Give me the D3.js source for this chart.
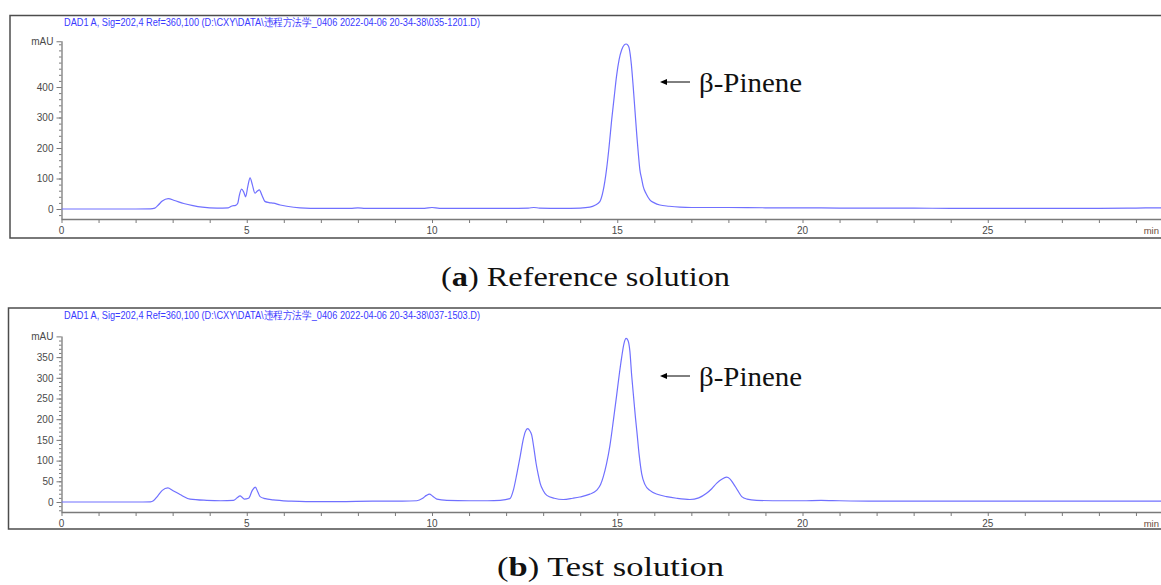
<!DOCTYPE html>
<html><head><meta charset="utf-8">
<script src="https://cdn.jsdelivr.net/npm/d3@7/dist/d3.min.js"></script>
<style>body{margin:0;background:#fff}svg{display:block}</style>
</head><body>
<svg id="c" width="1161" height="585"></svg>
<script>
// ---- data ----
const headerA = "DAD1 A, Sig=202,4 Ref=360,100 (D:\\CXY\\DATA\\违程方法学_0406 2022-04-06 20-34-38\\035-1201.D)";
const headerB = "DAD1 A, Sig=202,4 Ref=360,100 (D:\\CXY\\DATA\\违程方法学_0406 2022-04-06 20-34-38\\037-1503.D)";
const captionA = ["a", ") Reference solution"];
const captionB = ["b", ") Test solution"];
const peakLabel = "β-Pinene";
const xTickLabels = [0, 5, 10, 15, 20, 25];
const yTicksA = [0, 100, 200, 300, 400];
const yTicksB = [0, 50, 100, 150, 200, 250, 300, 350];
const unitLabel = "mAU";
const timeLabel = "min";
// [time (min), signal (mAU)]
const traceA = [[0,0],[1,0],[2,0],[2.4,0.5],[2.52,3],[2.62,14],[2.72,26],[2.88,34],[3.05,28],[3.3,18],[3.55,11],[3.8,6],[4.2,3],[4.5,4],[4.6,10],[4.7,12],[4.76,20],[4.8,45],[4.86,65],[4.92,55],[4.97,40],[5.03,75],[5.09,102],[5.15,80],[5.22,52],[5.28,58],[5.34,63],[5.41,45],[5.49,25],[5.6,21],[5.72,19],[5.9,13],[6.08,9],[6.44,4],[7,2],[7.8,2],[8,4],[8.2,2],[9,2],[9.8,2],[10,5],[10.2,2],[11,2],[12,2],[12.6,3],[12.75,5],[12.9,3],[13.5,2],[14,3],[14.26,6],[14.4,12],[14.53,24],[14.62,60],[14.71,129],[14.78,205],[14.85,293],[14.92,370],[14.98,435],[15.05,490],[15.12,522],[15.19,538],[15.24,541],[15.28,538],[15.32,528],[15.38,475],[15.43,402],[15.48,320],[15.53,238],[15.57,180],[15.61,129],[15.66,98],[15.7,74],[15.78,50],[15.88,30],[16,20],[16.15,13],[16.4,9],[16.69,6],[17,5],[18,5],[19,4],[20,4],[21,3],[22,3],[23,3],[24,2],[25,2],[26,2],[27,2],[28,2],[29,3],[29.7,4],[30,3]];
const traceB = [[0,0],[1,0],[2,0],[2.4,0.5],[2.48,3],[2.6,15],[2.72,28],[2.87,34],[3.0,28],[3.2,18],[3.47,7],[3.92,4],[4.3,3],[4.64,4],[4.74,10],[4.82,15],[4.88,11],[4.93,7],[5.05,9],[5.15,28],[5.23,36],[5.3,24],[5.36,13],[5.5,8],[5.71,5],[6.2,2],[6.6,1],[7.5,1],[8.4,2],[9.2,2],[9.59,3],[9.75,9],[9.85,16],[9.93,19],[10.02,14],[10.13,7],[10.4,4],[11,3],[11.5,3],[11.84,4],[12.1,8],[12.2,30],[12.29,68],[12.38,110],[12.46,150],[12.52,170],[12.58,177],[12.64,172],[12.69,162],[12.75,130],[12.81,93],[12.87,65],[12.92,45],[13.0,28],[13.1,16],[13.3,9],[13.54,6],[13.8,9],[13.99,12],[14.26,19],[14.44,28],[14.55,42],[14.62,60],[14.71,92],[14.8,135],[14.9,200],[14.98,255],[15.05,305],[15.12,350],[15.18,382],[15.24,395],[15.29,390],[15.34,365],[15.39,305],[15.44,255],[15.49,205],[15.53,170],[15.59,115],[15.66,68],[15.75,42],[15.88,28],[16.1,18],[16.33,13],[16.6,9],[16.96,6],[17.2,10],[17.41,21],[17.55,32],[17.68,45],[17.82,55],[17.95,60],[18.04,56],[18.13,45],[18.25,28],[18.36,13],[18.5,7],[18.76,4],[19.5,3],[20,3],[20.5,4],[21,3],[22,2],[23,2],[24,2],[25,2],[26,2],[27,2],[28,2],[29,2],[30,2]];

// ---- drawing ----
const svg = d3.select("#c");
const blue = "#7070ff";
const axisGray = "#7a7a7a";
const textGray = "#4a4a4a";

function panel(cfg) {
  const g = svg.append("g");
  const x = d3.scaleLinear().domain([0, 30]).range([61.5, 61.5 + 37.05 * 30]);
  const y = d3.scaleLinear().domain([0, cfg.yTop]).range([cfg.y0, cfg.y0 - cfg.k * cfg.yTop]);
  const axisY = cfg.y0 + 10;
  // frame
  g.append("rect").attr("x", cfg.fx).attr("y", cfg.ft).attr("width", 1200).attr("height", cfg.fb - cfg.ft)
    .attr("fill", "none").attr("stroke", "#4d4d4d").attr("stroke-width", 1.5);
  // header
  g.append("text").attr("x", 64).attr("y", cfg.ft + 10.5).text(cfg.header)
    .attr("font-family", "Liberation Sans, Arial, sans-serif").attr("font-size", 10.5)
    .attr("fill", "#3a3aff").attr("textLength", 416).attr("lengthAdjust", "spacingAndGlyphs");
  // x axis
  const xAxis = g.append("g").attr("transform", `translate(0,${axisY})`)
    .call(d3.axisBottom(x).tickValues(d3.range(0, 31, 1)).tickSize(4).tickFormat(""));
  xAxis.select(".domain").attr("d", `M${x(0)},0.5H1161`);
  xAxis.selectAll("line").attr("stroke", axisGray);
  xAxis.select(".domain").attr("stroke", axisGray).attr("stroke-width", 1.3);
  g.append("g").selectAll("text").data(xTickLabels).join("text")
    .attr("x", d => x(d)).attr("y", axisY + 15).attr("text-anchor", "middle").text(d => d)
    .attr("font-family", "Liberation Sans, Arial, sans-serif").attr("font-size", 10).attr("fill", textGray);
  g.append("text").attr("x", 1159).attr("y", axisY + 15).attr("text-anchor", "end").text(timeLabel)
    .attr("font-family", "Liberation Sans, Arial, sans-serif").attr("font-size", 9.5).attr("fill", "#6b4a3a");
  // y axis minor
  const yMinor = g.append("g").attr("transform", `translate(${x(0)},0)`)
    .call(d3.axisLeft(y).tickValues(d3.range(cfg.minor, cfg.yTop, cfg.minor).concat(d3.range(-cfg.minor, -10 / cfg.k, -cfg.minor))).tickSize(2.5).tickFormat(""));
  yMinor.select(".domain").remove();
  yMinor.selectAll("line").attr("stroke", axisGray);
  const yMajor = g.append("g").attr("transform", `translate(${x(0)},0)`)
    .call(d3.axisLeft(y).tickValues(cfg.yTicks.concat([cfg.yTop])).tickSize(5).tickPadding(3)
      .tickFormat(d => d === cfg.yTop ? unitLabel : d));
  yMajor.select(".domain").attr("d", `M0.5,${y(cfg.yTop)}V${axisY}`).attr("stroke", axisGray).attr("stroke-width", 1.3);
  yMajor.selectAll("line").attr("stroke", axisGray);
  yMajor.selectAll("text").attr("font-family", "Liberation Sans, Arial, sans-serif").attr("font-size", 10).attr("fill", textGray);
  // clip
  const id = "clip" + cfg.name;
  svg.append("clipPath").attr("id", id).append("rect").attr("x", x(0)).attr("y", cfg.ft).attr("width", 1161).attr("height", axisY - cfg.ft);
  g.append("path").datum(cfg.data).attr("clip-path", `url(#${id})`)
    .attr("d", d3.line().x(d => x(d[0])).y(d => y(d[1])).curve(d3.curveMonotoneX))
    .attr("fill", "none").attr("stroke", blue).attr("stroke-width", 1.2);
  // annotation
  g.append("line").attr("x1", 690).attr("x2", 664).attr("y1", cfg.annY).attr("y2", cfg.annY).attr("stroke", "#000").attr("stroke-width", 1);
  g.append("path").attr("d", `M660,${cfg.annY}l7,-3v6z`).attr("fill", "#000");
  g.append("text").attr("x", 699).attr("y", cfg.annY + 10).text(peakLabel)
    .attr("font-family", "Liberation Serif, Times New Roman, serif").attr("font-size", 27).attr("fill", "#111")
    .attr("textLength", 103).attr("lengthAdjust", "spacingAndGlyphs");
  // caption
  const cap = svg.append("text").attr("x", cfg.capX).attr("y", cfg.capY)
    .attr("font-family", "Liberation Serif, Times New Roman, serif").attr("font-size", 28).attr("fill", "#111")
    .attr("textLength", cfg.capW).attr("lengthAdjust", "spacingAndGlyphs");
  cap.append("tspan").text("(");
  cap.append("tspan").attr("font-weight", "bold").text(cfg.caption[0]);
  cap.append("tspan").text(cfg.caption[1]);
}

panel({name: "A", data: traceA, header: headerA, caption: captionA, fx: 10, ft: 15.5, fb: 238,
  y0: 209, k: 0.305, yTop: 550, yTicks: yTicksA, minor: 20, annY: 82, capX: 441, capY: 286, capW: 289});
panel({name: "B", data: traceB, header: headerB, caption: captionB, fx: 8.5, ft: 308, fb: 529,
  y0: 502, k: 0.414, yTop: 400, yTicks: yTicksB, minor: 10, annY: 376, capX: 497, capY: 576, capW: 227});
</script>
</body></html>
